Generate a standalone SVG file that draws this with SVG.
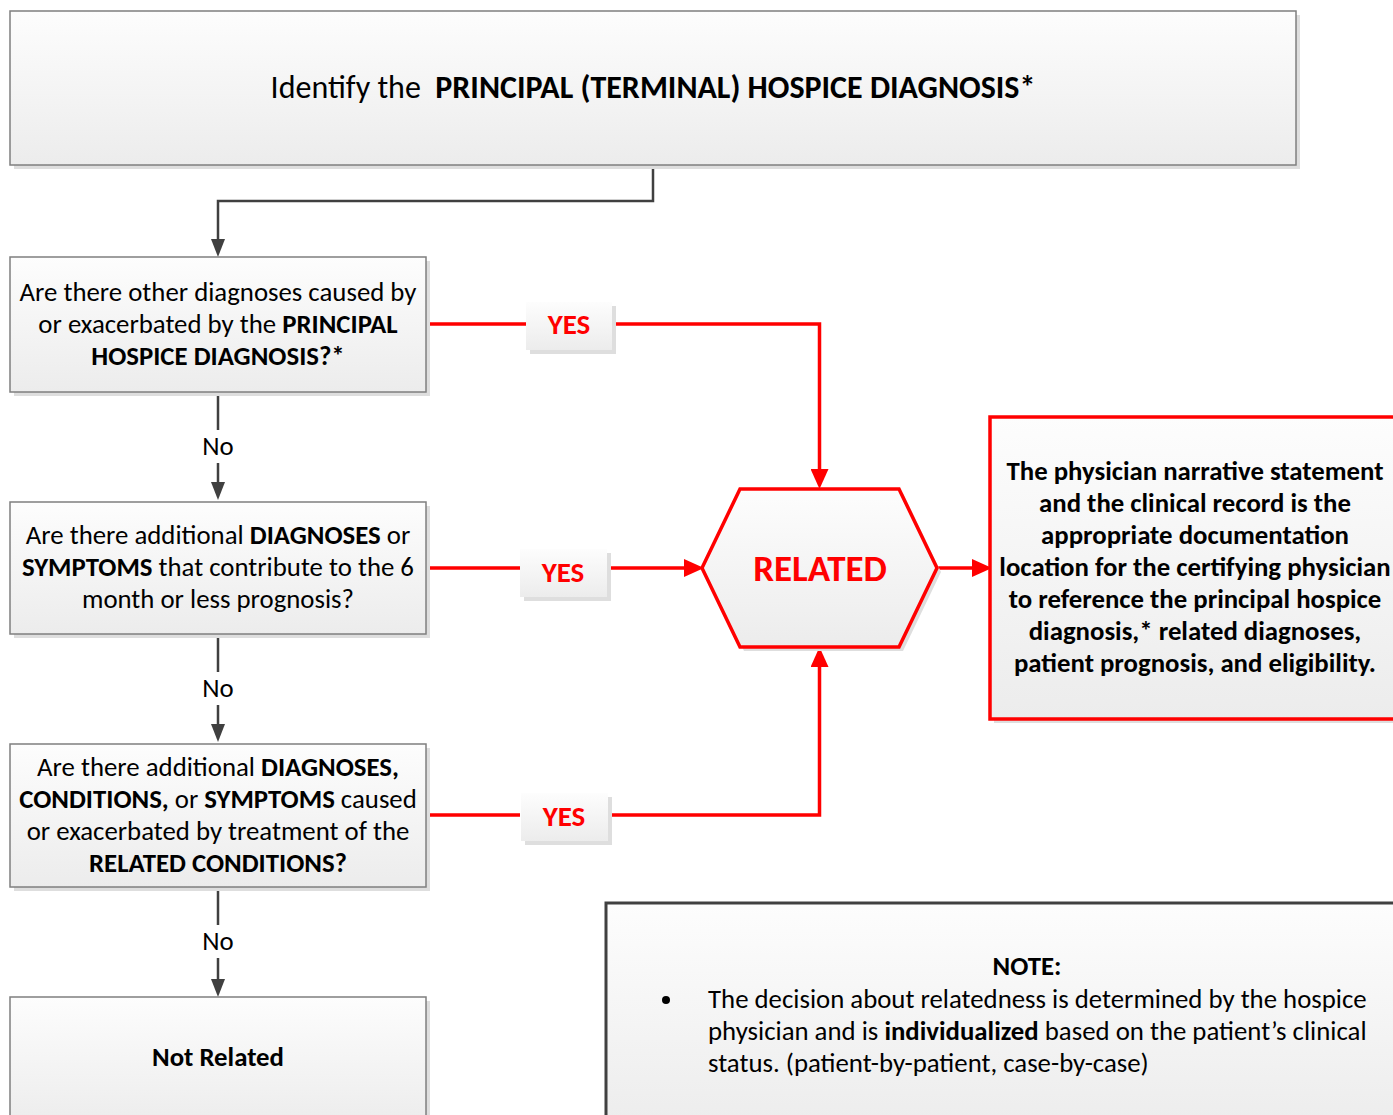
<svg xmlns="http://www.w3.org/2000/svg" width="1393" height="1115" viewBox="0 0 1393 1115">
<style>
text{font-family:Carlito,Calibri,Lato,"Liberation Sans",sans-serif;fill:#000}
.t{font-size:26.8px;text-anchor:middle}
.n{font-size:26.8px}
.b{font-weight:bold}
.title{font-size:32px;text-anchor:middle}
.yes{font-size:29px;font-weight:bold;fill:#ff0000;text-anchor:middle}
.rel{font-size:37px;font-weight:bold;fill:#ff0000;text-anchor:middle}
.box{fill:url(#g);stroke:#7f7f7f;stroke-width:1.5}
.shadow{fill:#dedede}
.dark{fill:none;stroke:#404040;stroke-width:2.5}
.red{fill:none;stroke:#ff0000;stroke-width:3.5}
</style>
<defs>
<linearGradient id="g" x1="0" y1="0" x2="0" y2="1">
<stop offset="0" stop-color="#fdfdfd"/>
<stop offset="1" stop-color="#ececec"/>
</linearGradient>
<marker id="ad" markerUnits="userSpaceOnUse" markerWidth="18" markerHeight="14" refX="12" refY="7" orient="auto">
<path d="M0,0 L18,7 L0,14 z" fill="#404040"/>
</marker>
<marker id="ar" markerUnits="userSpaceOnUse" markerWidth="20" markerHeight="18" refX="12" refY="9" orient="auto">
<path d="M0,0 L20,9 L0,18 z" fill="#ff0000"/>
</marker>
</defs>
<rect width="1393" height="1115" fill="#fff"/>

<g id="connectors">
<path class="dark" d="M653,165 V201 H218 V251" marker-end="url(#ad)"/>
<path class="dark" d="M218,392 V430 M218,463 V494" marker-end="url(#ad)"/>
<path class="dark" d="M218,634 V672 M218,705 V736" marker-end="url(#ad)"/>
<path class="dark" d="M218,887 V925 M218,958 V991" marker-end="url(#ad)"/>
<path class="red" d="M426,324 H540 M612,324 H819.5 V481" marker-end="url(#ar)"/>
<path class="red" d="M426,568 H520 M608,568 H696" marker-end="url(#ar)"/>
<path class="red" d="M428,815 H520 M612,815 H819.5 V655" marker-end="url(#ar)"/>
<path class="red" d="M937,568 H984" marker-end="url(#ar)"/>
<text class="t" x="218" y="455">No</text>
<text class="t" x="218" y="697">No</text>
<text class="t" x="218" y="950">No</text>
<g id="yes1"><rect class="shadow" x="530" y="306" width="86" height="48"/><rect x="526" y="302" width="86" height="48" fill="url(#g)"/><text class="yes" x="569" y="334">YES</text></g>
<g id="yes2"><rect class="shadow" x="524" y="553" width="87" height="48"/><rect x="520" y="549" width="87" height="48" fill="url(#g)"/><text class="yes" x="563" y="582">YES</text></g>
<g id="yes3"><rect class="shadow" x="525" y="797" width="87" height="48"/><rect x="521" y="793" width="87" height="48" fill="url(#g)"/><text class="yes" x="564" y="826">YES</text></g>
</g>

<g id="start">
<rect class="shadow" x="14" y="15" width="1286" height="154"/>
<rect class="box" x="10" y="11" width="1286" height="154"/>
<text class="title" x="653" y="98" xml:space="preserve">Identify the  <tspan class="b">PRINCIPAL (TERMINAL) HOSPICE DIAGNOSIS*</tspan></text>
</g>

<g id="q1">
<rect class="shadow" x="14" y="261" width="416" height="135"/>
<rect class="box" x="10" y="257" width="416" height="135"/>
<text class="t" x="218" y="301">Are there other diagnoses caused by</text>
<text class="t" x="218" y="333">or exacerbated by the <tspan class="b">PRINCIPAL</tspan></text>
<text class="t b" x="218" y="365">HOSPICE DIAGNOSIS?*</text>
</g>

<g id="q2">
<rect class="shadow" x="14" y="506" width="416" height="132"/>
<rect class="box" x="10" y="502" width="416" height="132"/>
<text class="t" x="218" y="544">Are there additional <tspan class="b">DIAGNOSES</tspan> or</text>
<text class="t" x="218" y="576"><tspan class="b">SYMPTOMS</tspan> that contribute to the 6</text>
<text class="t" x="218" y="608">month or less prognosis?</text>
</g>

<g id="q3">
<rect class="shadow" x="14" y="748" width="416" height="143"/>
<rect class="box" x="10" y="744" width="416" height="143"/>
<text class="t" x="218" y="776">Are there additional <tspan class="b">DIAGNOSES,</tspan></text>
<text class="t" x="218" y="808"><tspan class="b">CONDITIONS,</tspan> or <tspan class="b">SYMPTOMS</tspan> caused</text>
<text class="t" x="218" y="840">or exacerbated by treatment of the</text>
<text class="t b" x="218" y="872">RELATED CONDITIONS?</text>
</g>

<g id="notrelated">
<rect class="shadow" x="14" y="1001" width="416" height="130"/>
<rect class="box" x="10" y="997" width="416" height="130"/>
<text class="t b" x="218" y="1066">Not Related</text>
</g>

<g id="related">
<polygon class="shadow" points="744,493 903,493 941,572 903,651 744,651 706,572"/>
<polygon points="740,489 899,489 937,568 899,647 740,647 702,568" fill="url(#g)" stroke="#ff0000" stroke-width="3.5" stroke-linejoin="miter"/>
<text class="rel" x="820" y="581">RELATED</text>
</g>

<g id="documentation">
<rect class="shadow" x="994" y="421" width="420" height="302"/>
<rect x="990" y="417" width="420" height="302" fill="url(#g)" stroke="#ff0000" stroke-width="3.5"/>
<text class="t b" x="1195" y="480">The physician narrative statement</text>
<text class="t b" x="1195" y="512">and the clinical record is the</text>
<text class="t b" x="1195" y="544">appropriate documentation</text>
<text class="t b" x="1195" y="576">location for the certifying physician</text>
<text class="t b" x="1195" y="608">to reference the principal hospice</text>
<text class="t b" x="1195" y="640">diagnosis,* related diagnoses,</text>
<text class="t b" x="1195" y="672">patient prognosis, and eligibility.</text>
</g>

<g id="note">
<rect x="606" y="903" width="800" height="230" fill="url(#g)" stroke="#404040" stroke-width="3"/>
<text class="t b" x="1027" y="975">NOTE:</text>
<circle cx="666" cy="1000" r="4" fill="#000"/>
<text class="n" x="708" y="1008">The decision about relatedness is determined by the hospice</text>
<text class="n" x="708" y="1040">physician and is <tspan class="b">individualized</tspan> based on the patient’s clinical</text>
<text class="n" x="708" y="1072">status. (patient-by-patient, case-by-case)</text>
</g>
</svg>
